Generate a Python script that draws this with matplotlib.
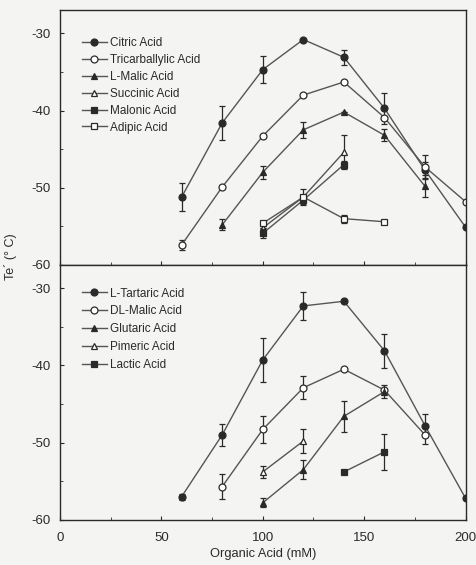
import numpy as np
import matplotlib
matplotlib.use("Agg")
import matplotlib.pyplot as plt

plt.rcParams['font.family'] = ['Liberation Sans', 'DejaVu Sans']

# --- datos panel superior ---
x_citric = [60, 80, 100, 120, 140, 160, 180, 200]
y_citric = [-51.2, -41.6, -34.7, -30.8, -33.1, -39.7, -47.7, -55.1]
e_citric = [1.8, 2.2, 1.7, 0, 1.0, 2.0, 1.0, 0]

x_tricarb = [60, 80, 100, 120, 140, 160, 180, 200]
y_tricarb = [-57.4, -49.9, -43.3, -38.0, -36.3, -40.9, -47.3, -51.8]
e_tricarb = [0.6, 0, 0, 0, 0, 0, 1.5, 0]

x_lmalic = [80, 100, 120, 140, 160, 180]
y_lmalic = [-54.8, -48.0, -42.5, -40.2, -43.2, -49.8]
e_lmalic = [0.7, 0.8, 1.0, 0, 0.8, 1.4]

x_succinic = [100, 120, 140]
y_succinic = [-55.2, -51.2, -45.4]
e_succinic = [0, 1.0, 2.2]

x_malonic = [100, 120, 140]
y_malonic = [-55.9, -51.6, -47.0]
e_malonic = [0.6, 0.5, 0.5]

x_adipic = [100, 120, 140, 160]
y_adipic = [-54.6, -51.2, -54.0, -54.4]
e_adipic = [0, 0, 0.5, 0]

# --- datos panel inferior ---
x_ltart = [60, 80, 100, 120, 140, 160, 180, 200]
y_ltart = [-57.0, -49.0, -39.3, -32.3, -31.7, -38.1, -47.8, -57.2]
e_ltart = [0.4, 1.4, 2.8, 1.8, 0, 2.2, 1.5, 0]

x_dlmalic = [80, 100, 120, 140, 160, 180]
y_dlmalic = [-55.7, -48.3, -42.9, -40.5, -43.2, -49.0]
e_dlmalic = [1.6, 1.8, 1.5, 0, 0, 1.2]

x_glutaric = [100, 120, 140, 160]
y_glutaric = [-57.8, -53.5, -46.6, -43.4]
e_glutaric = [0.6, 1.2, 2.0, 0.8]

x_pimeric = [100, 120]
y_pimeric = [-53.8, -49.8]
e_pimeric = [0.8, 1.5]

x_lactic = [140, 160]
y_lactic = [-53.8, -51.2]
e_lactic = [0, 2.3]

y_ticks = [-60, -50, -40, -30]
x_ticks = [0, 50, 100, 150, 200]

bg = '#f4f4f2'
ink = '#2a2a2a'
linea = '#555555'

fig = plt.figure(figsize=(4.76, 5.65), dpi=100, facecolor=bg)
ax1 = fig.add_axes([0.126, 0.531, 0.852, 0.451], facecolor=bg)
ax2 = fig.add_axes([0.126, 0.080, 0.852, 0.451], facecolor=bg)


def serie(ax, x, y, e, marker, fill, label, ms=5):
    # barras de error sin etiqueta, la linea con marcador lleva la leyenda
    ax.errorbar(x, y, yerr=e, fmt='none', ecolor=ink, elinewidth=0.9,
                capsize=2.5, capthick=0.9)
    ax.plot(x, y, color=linea, lw=1.0, marker=marker, ms=ms,
            mfc=ink if fill else 'white', mec=ink, mew=0.9, label=label)


serie(ax1, x_citric, y_citric, e_citric, 'o', True, 'Citric Acid')
serie(ax1, x_tricarb, y_tricarb, e_tricarb, 'o', False, 'Tricarballylic Acid')
serie(ax1, x_lmalic, y_lmalic, e_lmalic, '^', True, 'L-Malic Acid')
serie(ax1, x_succinic, y_succinic, e_succinic, '^', False, 'Succinic Acid', ms=4)
serie(ax1, x_malonic, y_malonic, e_malonic, 's', True, 'Malonic Acid', ms=4)
serie(ax1, x_adipic, y_adipic, e_adipic, 's', False, 'Adipic Acid')

serie(ax2, x_ltart, y_ltart, e_ltart, 'o', True, 'L-Tartaric Acid')
serie(ax2, x_dlmalic, y_dlmalic, e_dlmalic, 'o', False, 'DL-Malic Acid')
serie(ax2, x_glutaric, y_glutaric, e_glutaric, '^', True, 'Glutaric Acid')
serie(ax2, x_pimeric, y_pimeric, e_pimeric, '^', False, 'Pimeric Acid')
serie(ax2, x_lactic, y_lactic, e_lactic, 's', True, 'Lactic Acid', ms=4)

for ax in (ax1, ax2):
    ax.set_xlim(0, 200)
    ax.set_ylim(-60, -27)
    ax.set_yticks(y_ticks)
    ax.set_yticklabels([str(v) for v in y_ticks])
    ax.set_yticks(np.arange(-60, -27, 5), minor=True)
    ax.set_xticks(x_ticks)
    ax.set_xticks(np.arange(0, 201, 25), minor=True)
    ax.tick_params(which='both', direction='in', colors=ink, labelsize=9.5,
                   top=False, right=False)
    ax.tick_params(axis='y', pad=7)
    ax.tick_params(axis='x', pad=9)
    ax.tick_params(which='major', length=3)
    ax.tick_params(which='minor', length=2.5)
    for s in ax.spines.values():
        s.set_color(ink)
        s.set_linewidth(1.0)

ax1.legend(loc='upper left', bbox_to_anchor=(0.042, 0.914), frameon=False,
           fontsize=8.5, handlelength=2.1, handletextpad=0.3,
           labelspacing=0.42, borderaxespad=0.0, labelcolor=ink)
ax2.legend(loc='upper left', bbox_to_anchor=(0.042, 0.93), frameon=False,
           fontsize=8.5, handlelength=2.1, handletextpad=0.3,
           labelspacing=0.5, borderaxespad=0.0, labelcolor=ink)

ax1.tick_params(axis='x', labelbottom=False)

ax2.set_xlabel('Organic Acid (mM)', fontsize=9.3, color=ink, labelpad=3)
fig.text(0.022, 0.545, "Te´ (° C)", rotation=90, ha='center', va='center',
         fontsize=9, color=ink)

fig.savefig('out.png', dpi=100, facecolor=bg)
